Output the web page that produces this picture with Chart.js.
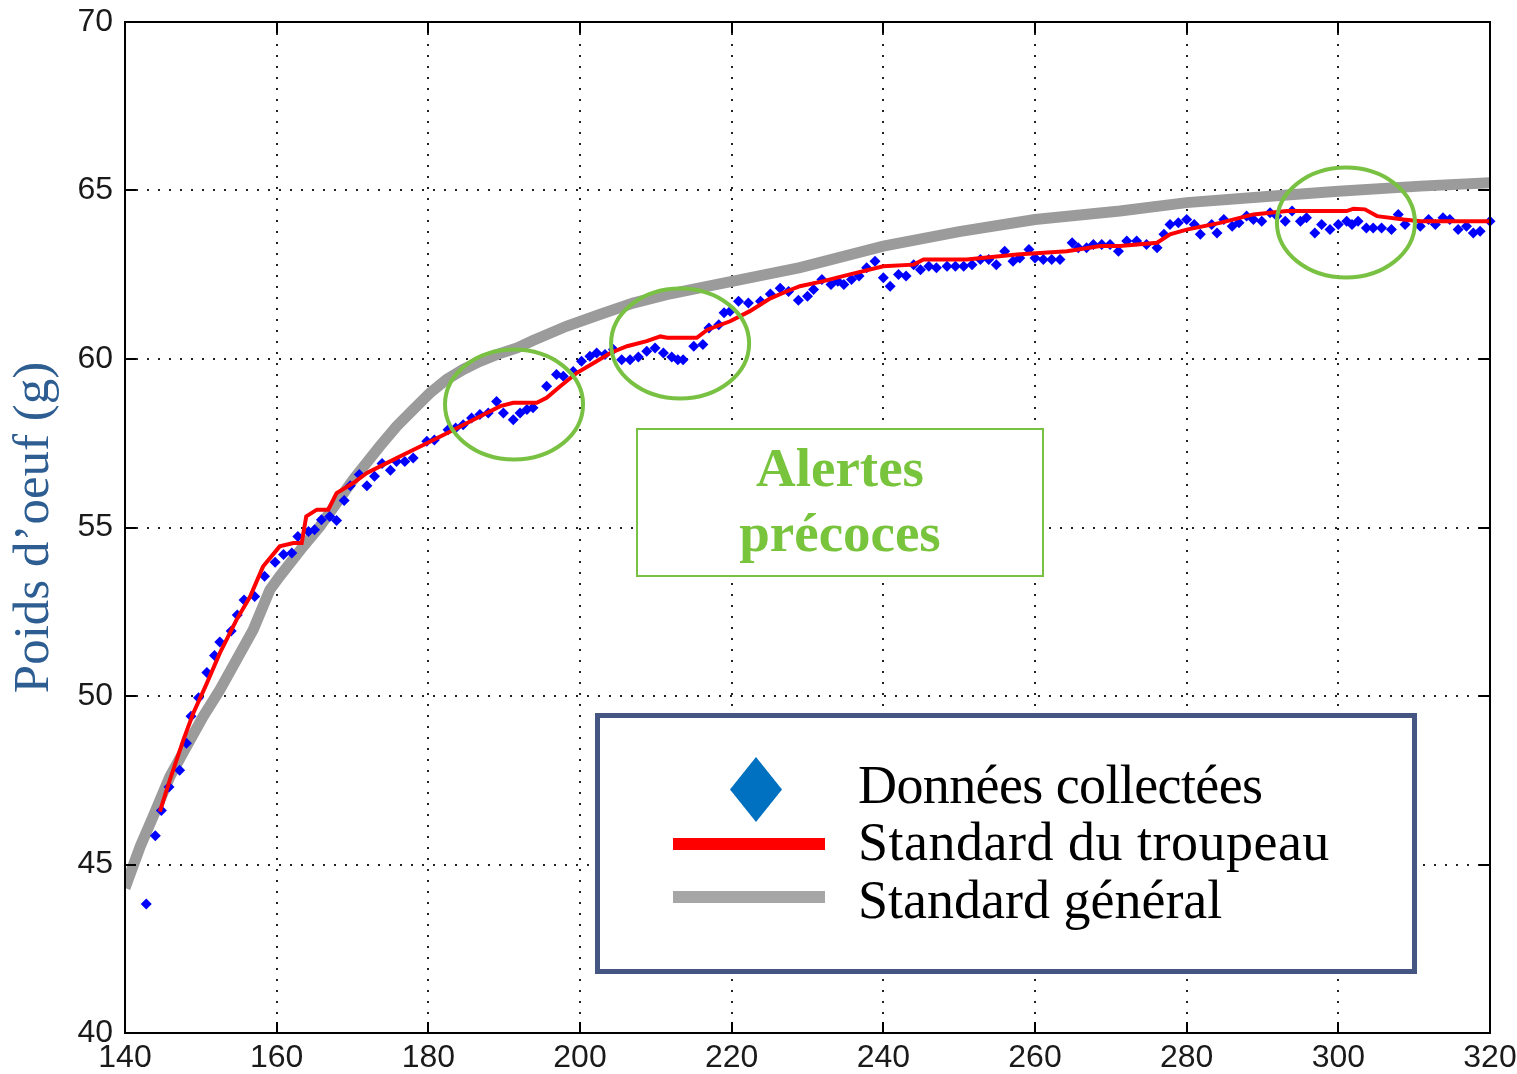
<!DOCTYPE html>
<html><head><meta charset="utf-8">
<script src="https://cdn.jsdelivr.net/npm/chart.js@4.4.1/dist/chart.umd.min.js"></script>
<style>
html,body{margin:0;padding:0;background:#fff;}
#wrap{position:relative;width:1517px;height:1074px;overflow:hidden;background:#fff;}
#c{position:absolute;left:0;top:0;}
.ov{position:absolute;box-sizing:border-box;}
#alertBox{left:636px;top:428px;width:408px;height:149px;border:2px solid #79C142;background:#fff;}
.alertLine{position:absolute;left:0;width:100%;text-align:center;font:bold 55px "Liberation Serif","Times New Roman",serif;line-height:55px;color:#78C43C;white-space:nowrap;}
#legendBox{left:595px;top:713px;width:822px;height:261px;border:5px solid #465683;background:#fff;}
.legTxt{position:absolute;left:858px;font:54px "Liberation Serif","Times New Roman",serif;line-height:54px;color:#000;white-space:nowrap;}
</style></head><body>
<div id="wrap">
<canvas id="c" width="1517" height="1074"></canvas>
<div id="alertBox" class="ov"></div>
<div class="alertLine" style="left:636px;width:408px;top:440px;">Alertes</div>
<div class="alertLine" style="left:636px;width:408px;top:505px;">précoces</div>
<div id="legendBox" class="ov"></div>
<div class="ov" style="left:730px;top:757px;width:52px;height:65px;background:#0070C0;clip-path:polygon(50% 0,100% 50%,50% 100%,0 50%);"></div>
<div class="ov" style="left:673px;top:838px;width:152px;height:12px;background:#FF0000;"></div>
<div class="ov" style="left:673px;top:891px;width:152px;height:12px;background:#A6A6A6;"></div>
<div class="legTxt" style="top:758px;letter-spacing:-0.6px;">Données collectées</div>
<div class="legTxt" style="top:815px;letter-spacing:0.5px;">Standard du troupeau</div>
<div class="legTxt" style="top:873px;">Standard général</div>
</div>
<script>
// ---- data ----
const xTickValues = [140,160,180,200,220,240,260,280,300,320];
const yTickValues = [40,45,50,55,60,65,70];

const seriesNames = ['Données collectées','Standard du troupeau','Standard général'];

const blueDays = [
142.8,144.0,144.8,145.8,147.2,148.1,148.7,149.7,150.8,151.8,
152.5,154.0,154.8,155.7,157.1,158.4,159.8,160.9,162.0,162.8,
164.2,165.0,165.9,167.0,167.9,168.9,169.7,170.9,171.9,172.9,
173.9,175.0,175.8,176.9,178.0,179.8,180.8,182.6,183.6,184.6,
185.7,186.8,187.9,189.0,189.9,191.2,192.1,193.0,193.8,195.6,
196.9,197.8,199.1,200.2,201.3,202.2,203.3,204.4,205.5,206.6,
207.7,208.8,209.9,211.0,212.1,212.9,213.6,215.0,216.2,217.0,
218.3,219.0,219.8,220.9,222.2,223.8,225.1,226.4,227.5,228.8,
230.0,230.8,231.9,233.1,234.0,234.8,235.8,236.8,237.8,238.9,
240.0,240.9,242.0,243.0,244.0,244.9,246.0,247.0,248.4,249.5,
250.6,251.7,252.8,253.9,254.9,256.0,257.1,258.0,259.2,260.0,
261.1,262.2,263.3,264.9,265.7,266.8,267.7,268.8,269.9,271.0,
272.1,273.4,274.7,276.1,277.0,277.8,278.9,280.0,281.0,281.8,
283.3,284.0,284.9,286.0,286.9,287.9,288.8,289.9,291.0,291.9,
293.0,293.9,295.0,295.8,296.9,297.8,298.9,300.0,301.1,301.8,
302.6,303.7,304.6,305.7,307.0,307.9,308.8,310.8,311.9,312.8,
313.8,314.7,315.8,316.9,317.8,318.7,320.0];
const blueWeights = [
43.83,45.85,46.6,47.3,47.8,48.6,49.4,49.95,50.7,51.2,
51.6,51.93,52.4,52.85,52.95,53.55,53.97,54.2,54.24,54.73,
54.88,54.93,55.23,55.33,55.21,55.8,56.24,56.57,56.24,56.52,
56.9,56.7,56.96,56.96,57.06,57.56,57.6,57.9,57.95,58.05,
58.25,58.35,58.4,58.74,58.4,58.2,58.4,58.5,58.55,59.19,
59.54,59.49,59.63,59.93,60.08,60.18,60.13,60.28,59.98,59.98,
60.06,60.23,60.33,60.18,60.06,59.98,59.98,60.38,60.43,60.92,
61.02,61.37,61.42,61.71,61.66,61.71,61.93,62.1,62.0,61.74,
61.86,62.06,62.36,62.21,62.31,62.21,62.36,62.46,62.71,62.9,
62.41,62.16,62.51,62.46,62.8,62.65,62.75,62.71,62.75,62.75,
62.75,62.8,62.95,62.95,62.8,63.2,62.9,63.0,63.25,63.0,
62.95,62.95,62.95,63.45,63.3,63.3,63.4,63.4,63.4,63.2,
63.5,63.5,63.4,63.3,63.7,63.99,64.04,64.14,63.99,63.7,
63.99,63.74,64.14,63.94,64.04,64.24,64.14,64.09,64.34,64.24,
64.09,64.39,64.09,64.19,63.74,63.99,63.84,63.99,64.09,63.99,
64.09,63.89,63.89,63.89,63.84,64.29,63.99,63.94,64.14,63.99,
64.19,64.14,63.84,63.94,63.74,63.79,64.09];

const herdDays = [144.6,145.9,147.7,149.0,150.8,152.5,154.7,156.5,158.2,160.4,
162.2,163.3,163.9,165.3,166.8,167.9,170.1,171.9,174.5,176.7,
179.8,182.9,185.1,187.7,189.5,191.2,194.3,195.6,197.4,199.6,
201.8,204.0,206.2,208.8,210.6,211.5,215.4,216.8,219.8,222.4,
225.1,227.3,229.0,232.1,235.6,240.0,244.0,245.3,251.0,257.6,
264.2,268.6,271.2,276.1,277.8,280.0,284.4,288.8,293.2,301.1,
302.0,303.5,305.1,308.6,310.8,320.0];
const herdWeights = [46.57,47.5,48.7,49.49,50.38,51.27,52.26,52.95,53.84,54.44,
54.54,54.54,55.33,55.53,55.53,56.02,56.32,56.62,56.91,57.16,
57.5,57.85,58.1,58.4,58.6,58.7,58.7,58.85,59.19,59.59,
59.88,60.18,60.38,60.53,60.67,60.63,60.63,60.87,61.12,61.42,
61.8,62.01,62.16,62.31,62.51,62.75,62.8,62.95,62.95,63.1,
63.2,63.35,63.35,63.45,63.7,63.84,64.04,64.29,64.39,64.39,
64.46,64.44,64.24,64.14,64.09,64.09];

const standardDays = [140,142.0,143.7,145.9,148.1,150.3,152.5,154.7,156.9,159.1,
160.4,163.5,165.7,170.1,173.6,175.8,178.0,180.2,182.4,184.6,
186.8,189.0,191.7,193.8,198.2,202.6,207.0,211.4,215.8,220.2,
224.6,229.0,240.0,250.0,260.0,271.2,280.0,291.0,300.0,310.8,
320.0];
const standardWeights = [44.3,45.53,46.42,47.6,48.5,49.39,50.18,51.07,51.96,53.15,
53.55,54.44,55.03,56.42,57.41,58.0,58.5,58.99,59.39,59.69,
59.93,60.13,60.33,60.55,60.97,61.32,61.66,61.91,62.11,62.31,
62.51,62.71,63.35,63.78,64.14,64.39,64.64,64.83,64.98,65.13,
65.23];

// early-alert ellipse centres (day, weight)
const alertDays = [191.3, 213.2, 301.0];
const alertWeights = [58.65, 60.46, 64.05];

const pairs = (xs, ys) => xs.slice(0, Math.min(xs.length, ys.length)).map((d, i) => ({x: d, y: ys[i]}));

const tickFont = {family: '"Liberation Sans Narrow","Liberation Sans",Arial,sans-serif', size: 32, lineHeight: 1.2};

const overlayPlugin = {
  id: 'overlay',
  afterDatasetsDraw(chart, args, opts) {
    const {ctx, chartArea: a, scales: {x, y}} = chart;
    ctx.save();
    ctx.strokeStyle = opts.ellipseColor;
    ctx.lineWidth = opts.ellipseWidth;
    alertDays.forEach((d, i) => {
      const cx = x.getPixelForValue(d), cy = y.getPixelForValue(alertWeights[i]);
      const rx = Math.abs(x.getPixelForValue(d + opts.rxDays) - cx);
      const ry = Math.abs(y.getPixelForValue(alertWeights[i] + opts.ryGrams) - cy);
      ctx.beginPath();
      ctx.ellipse(cx, cy, rx, ry, 0, 0, Math.PI * 2);
      ctx.stroke();
    });
    ctx.strokeStyle = '#000';
    ctx.lineWidth = 2;
    ctx.strokeRect(a.left, a.top, a.right - a.left, a.bottom - a.top);
    const L = opts.tickLen;
    ctx.beginPath();
    x.ticks.forEach(t => {
      const px = Math.round(x.getPixelForValue(t.value));
      ctx.moveTo(px, a.bottom); ctx.lineTo(px, a.bottom - L);
      ctx.moveTo(px, a.top); ctx.lineTo(px, a.top + L);
    });
    y.ticks.forEach(t => {
      const py = Math.round(y.getPixelForValue(t.value));
      ctx.moveTo(a.left, py); ctx.lineTo(a.left + L, py);
      ctx.moveTo(a.right, py); ctx.lineTo(a.right - L, py);
    });
    ctx.stroke();
    ctx.restore();
  }
};

const zeroPad = s => { s.paddingTop = 0; s.paddingBottom = 0; s.paddingLeft = 0; s.paddingRight = 0; };

new Chart(document.getElementById('c'), {
  type: 'scatter',
  data: {
    datasets: [
      {label: seriesNames[1], data: pairs(herdDays, herdWeights), showLine: true,
       borderColor: '#FF0000', backgroundColor: '#FF0000', borderWidth: 4, pointRadius: 0,
       tension: 0, order: 1, clip: 0},
      {label: seriesNames[0], data: pairs(blueDays, blueWeights), showLine: false,
       pointStyle: 'rectRot', pointRadius: 5.5, borderWidth: 0,
       backgroundColor: '#0000FF', borderColor: '#0000FF', order: 2, clip: false},
      {label: seriesNames[2], data: pairs(standardDays, standardWeights), showLine: true,
       borderColor: '#9B9B9B', backgroundColor: '#9B9B9B', borderWidth: 11, pointRadius: 0,
       tension: 0, order: 3, clip: 0}
    ]
  },
  options: {
    responsive: false,
    animation: false,
    events: [],
    layout: {padding: {left: 0, top: 22, right: 27, bottom: 0}},
    plugins: {
      legend: {display: false},
      tooltip: {enabled: false},
      overlay: {ellipseColor: '#79C142', ellipseWidth: 4, rxDays: 9.1, ryGrams: 1.63, tickLen: 11}
    },
    scales: {
      x: {
        type: 'linear', position: 'bottom', min: 140, max: 320,
        afterBuildTicks: s => { s.ticks = xTickValues.map(v => ({value: v})); },
        afterFit: s => { s.height = 41; zeroPad(s); },
        grid: {color: '#222', lineWidth: 2, drawTicks: false},
        border: {display: false, dash: [2, 9]},
        ticks: {font: tickFont, color: '#1a1a1a', padding: 6, maxRotation: 0, autoSkip: false}
      },
      y: {
        type: 'linear', position: 'left', min: 40, max: 70,
        afterBuildTicks: s => { s.ticks = yTickValues.map(v => ({value: v})); },
        afterFit: s => { s.width = 125; zeroPad(s); },
        grid: {color: '#222', lineWidth: 2, drawTicks: false},
        border: {display: false, dash: [2, 9]},
        ticks: {font: tickFont, color: '#1a1a1a', padding: 12, autoSkip: false},
        title: {display: true, text: 'Poids d’oeuf (g)', color: '#2E5E91',
                font: {family: '"Liberation Serif","Times New Roman",serif', size: 51, lineHeight: 1.2},
                padding: {top: 4, bottom: 0}}
      }
    }
  },
  plugins: [overlayPlugin]
});
</script>
</body></html>
